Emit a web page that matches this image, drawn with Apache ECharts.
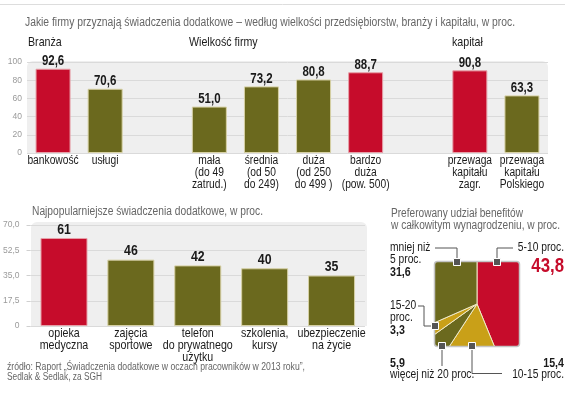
<!DOCTYPE html>
<html><head><meta charset="utf-8">
<script src="https://cdn.jsdelivr.net/npm/echarts@6/dist/echarts.min.js"></script>
<style>html,body{margin:0;padding:0;background:#fff}#c{width:578px;height:395px}</style>
</head><body><div id="c"></div>
<script>
// ---- data ----
const sizeCategories = ['bankowość', 'usługi', '', 'mała\n(do 49\nzatrud.)', 'średnia\n(od 50\ndo 249)', 'duża\n(od 250\ndo 499 )', 'bardzo\nduża\n(pow. 500)', '', 'przewaga\nkapitału\nzagr.', 'przewaga\nkapitału\nPolskiego'];
const sizeValues = [92.6, 70.6, null, 51.0, 73.2, 80.8, 88.7, null, 90.8, 63.3];
const sizeHighlight = [1, 0, 0, 0, 0, 0, 1, 0, 1, 0];
const sizeGroups = ['Branża', 'Wielkość firmy', 'kapitał'];

const benefitCategories = ['opieka\nmedyczna', 'zajęcia\nsportowe', 'telefon\ndo prywatnego\nużytku', 'szkolenia,\nkursy', 'ubezpieczenie\nna życie'];
const benefitValues = [61, 46, 42, 40, 35];
const benefitHighlight = [1, 0, 0, 0, 0];

const shareNames = ['5-10 proc.', '10-15 proc.', 'więcej niż 20 proc.', '15-20 proc.', 'mniej niż 5 proc.'];
const shareValues = [43.8, 15.4, 5.9, 3.3, 31.6];
const shareColors = ['#c60c2b', '#c9a018', '#6b691e', '#c9a018', '#6b691e'];

const RED = '#c60c2b', OLIVE = '#6b691e';
const FONT = "'Liberation Sans', Arimo, Arial, sans-serif";
const NARROW_SCALE = 0.82;
const fmt = v => v.toFixed(1).replace('.', ',');

const chart = echarts.init(document.getElementById('c'), null, {renderer: 'canvas'});

function barItems(vals, hl) {
  return vals.map((v, i) => v == null ? null : ({
    value: v,
    itemStyle: {color: hl[i] ? RED : OLIVE, borderColor: hl[i] ? '#e6a0a8' : '#d6d0a4', borderWidth: 1}
  }));
}

const mctx = document.createElement('canvas').getContext('2d');
function fitScale(text, font, width) { mctx.font = font; return width / mctx.measureText(text).width; }

function T(x, y, text, o, sx) {
  o = o || {};
  const font = o.font || ('12px ' + FONT);
  return {type: 'text', x: x, y: y, z: 200, scaleX: sx || NARROW_SCALE,
    style: Object.assign({text: text, fill: '#1a1a1a', font: font, textAlign: 'left', textVerticalAlign: 'middle'}, o)};
}
function TF(x, y, text, font, width, fill) {
  return T(x, y, text, {font: font, fill: fill || '#666'}, fitScale(text, font, width));
}
const L = pts => ({type: 'polyline', z: 120, shape: {points: pts}, style: {stroke: '#555', lineWidth: 1, fill: null}});
const W = (x, y, w, h) => ({type: 'rect', z: 100, shape: {x: x, y: y, width: w, height: h}, style: {fill: '#fff'}});

const markers = [[457, 262], [497, 262], [435, 326], [442, 346], [472, 346]];

const option = {
  animation: false,
  grid: [
    {left: 27, right: 30, top: 62, height: 91},
    {left: 28, right: 213, top: 225, height: 101}
  ],
  xAxis: [
    {type: 'category', gridIndex: 0, data: sizeCategories, axisLine: {show: false}, axisTick: {show: false}, axisLabel: {show: false}},
    {type: 'category', gridIndex: 1, data: benefitCategories, axisLine: {show: false}, axisTick: {show: false}, axisLabel: {show: false}}
  ],
  yAxis: [
    {type: 'value', gridIndex: 0, min: 0, max: 100, interval: 20, axisLine: {show: false}, axisTick: {show: false},
     axisLabel: {margin: 5, fontSize: 8.5, color: '#9a9a9a', fontFamily: FONT},
     splitLine: {lineStyle: {color: '#dadada', width: 1}}},
    {type: 'value', gridIndex: 1, min: 0, max: 70, interval: 17.5, axisLine: {show: false},
     axisTick: {show: true, length: 4, lineStyle: {color: '#d0d0d0'}},
     axisLabel: {margin: 11, fontSize: 8.5, color: '#9a9a9a', fontFamily: FONT, formatter: v => v === 0 ? '0' : fmt(v)},
     splitLine: {lineStyle: {color: '#dadada', width: 1}}}
  ],
  series: [
    {type: 'bar', xAxisIndex: 0, yAxisIndex: 0, barWidth: 35, data: barItems(sizeValues, sizeHighlight)},
    {type: 'bar', xAxisIndex: 1, yAxisIndex: 1, barWidth: 47, data: barItems(benefitValues, benefitHighlight)},
    {type: 'pie', center: [477, 304], radius: 62, startAngle: 90, clockwise: true, silent: true,
     label: {show: false}, labelLine: {show: false},
     data: shareNames.map((n, i) => ({name: n, value: shareValues[i], itemStyle: {color: shareColors[i], borderColor: '#efe9c8', borderWidth: 1}}))}
  ]
};
chart.setOption(option);

// ---- labels positioned through the axes ----
const g = [
  {type: 'line', z: -5, shape: {x1: 0, y1: 4.5, x2: 565, y2: 4.5}, style: {stroke: '#dddddd', lineWidth: 1}},
  {type: 'rect', z: -5, shape: {x: 27, y: 61, width: 521, height: 92, r: [6, 6, 0, 0]}, style: {fill: '#efefef'}},
  {type: 'rect', z: -5, shape: {x: 31, y: 222, width: 336, height: 104, r: [6, 6, 0, 0]}, style: {fill: '#efefef'}},
  W(398, 236, 166, 26), W(398, 346, 166, 26), W(398, 236, 37, 136), W(519, 236, 45, 136),
  {type: 'rect', z: 110, shape: {x: 434.5, y: 261.5, width: 85, height: 85, r: 3}, style: {fill: null, stroke: '#c4c4c4', lineWidth: 1.5}},
  L([[435, 248], [457, 248], [457, 262]]),
  L([[513, 248], [497, 248], [497, 262]]),
  L([[418, 306], [424, 306], [424, 326], [435, 326]]),
  L([[442, 346], [442, 366]]),
  L([[472, 346], [472, 373.5], [502, 373.5]])
];
markers.forEach(m => g.push({type: 'rect', z: 130, shape: {x: m[0] - 3.5, y: m[1] - 3.5, width: 7, height: 7}, style: {fill: '#555', stroke: '#fff', lineWidth: 1}}));

function addBarLabels(axisIdx, cats, vals, catFont, catY, lineH, valFont, valOff, valFmt) {
  const y0 = chart.convertToPixel({yAxisIndex: axisIdx}, 0);
  cats.forEach((c, i) => {
    if (!c) return;
    const x = chart.convertToPixel({xAxisIndex: axisIdx}, i);
    c.split('\n').forEach((line, k) => g.push(T(x, y0 + catY + k * lineH, line, {font: catFont, textAlign: 'center'})));
    if (vals[i] != null) {
      const yv = chart.convertToPixel({yAxisIndex: axisIdx}, vals[i]);
      g.push(T(x, yv - valOff, valFmt(vals[i]), {font: valFont, textAlign: 'center'}));
    }
  });
}
addBarLabels(0, sizeCategories, sizeValues, '12.5px ' + FONT, 7.5, 12.2, 'bold 14px ' + FONT, 7.5, fmt);
addBarLabels(1, benefitCategories, benefitValues, '13px ' + FONT, 7, 12, 'bold 15px ' + FONT, 8.5, v => String(v));

g.push(
  TF(25, 23, 'Jakie firmy przyznają świadczenia dodatkowe – według wielkości przedsiębiorstw, branży i kapitału, w proc.', '12px ' + FONT, 490),
  T(28, 42, sizeGroups[0], {font: '13px ' + FONT}),
  T(189, 42, sizeGroups[1], {font: '13px ' + FONT}),
  T(452, 42, sizeGroups[2], {font: '13px ' + FONT}),
  TF(32, 211.5, 'Najpopularniejsze świadczenia dodatkowe, w proc.', '12px ' + FONT, 231),
  TF(7, 367, 'źródło: Raport „Świadczenia dodatkowe w oczach pracowników w 2013 roku”,', '10px ' + FONT, 298),
  TF(7, 377, 'Sedlak & Sedlak, za SGH', '10px ' + FONT, 95),
  TF(391, 213.5, 'Preferowany udział benefitów', '12px ' + FONT, 132),
  TF(391, 225.5, 'w całkowitym wynagrodzeniu, w proc.', '12px ' + FONT, 169),
  T(390, 248, 'mniej niż', {font: '12.5px ' + FONT}),
  T(390, 260, '5 proc.', {font: '12.5px ' + FONT}),
  T(390, 272, fmt(shareValues[4]), {font: 'bold 13px ' + FONT}),
  T(564, 248, shareNames[0], {font: '12.5px ' + FONT, textAlign: 'right'}),
  T(564, 266, fmt(shareValues[0]), {font: 'bold 20.5px ' + FONT, textAlign: 'right', fill: RED}),
  T(390, 306, '15-20', {font: '12.5px ' + FONT}),
  T(390, 318, 'proc.', {font: '12.5px ' + FONT}),
  T(390, 330, fmt(shareValues[3]), {font: 'bold 13px ' + FONT}),
  T(390, 363, fmt(shareValues[2]), {font: 'bold 13px ' + FONT}),
  T(390, 374.5, shareNames[2], {font: '12.5px ' + FONT}),
  T(564, 363, fmt(shareValues[1]), {font: 'bold 13px ' + FONT, textAlign: 'right'}),
  T(564, 374.5, shareNames[1], {font: '12.5px ' + FONT, textAlign: 'right'})
);
chart.setOption({graphic: {elements: g}});
</script></body></html>
